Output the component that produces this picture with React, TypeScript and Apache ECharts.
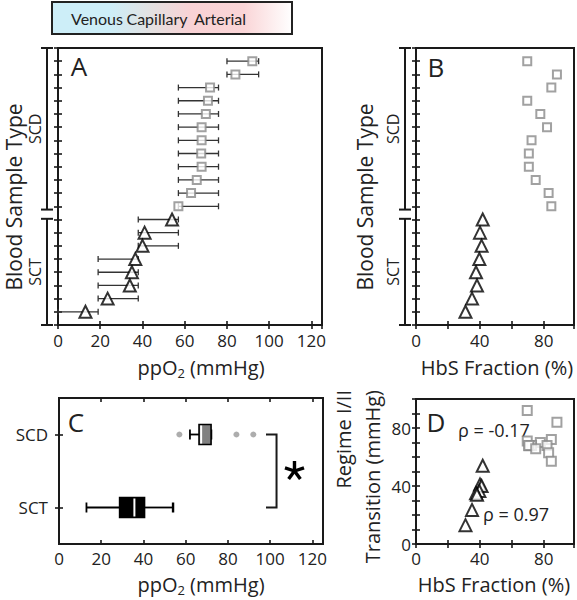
import React, { useEffect, useRef } from "react";
import * as echarts from "echarts";

const FONT = "'Open Sans', 'Noto Sans', sans-serif";
const BAR_FONT = "Lato, 'Open Sans', sans-serif";
const INK = "#1a1a1a";
const GRAY = "#8a8a8a";

// Panel A: ppO2 transition per sample (rows from top to bottom)
const scdPpO2 = [92, 84, 72, 71, 70, 68, 68, 67.8, 68, 65.7, 63, 57];
const scdLo = [80, 80, 57, 57, 57, 57, 57, 57, 57, 57, 57, 57];
const scdHi = [95, 95, 76, 76, 76, 76, 76, 76, 76, 76, 76, 76];
const sctPpO2 = [54, 41, 40, 36.6, 35, 34, 23.5, 13];
const sctLo = [38, 38, 38, 19, 19, 19, 19, 0];
const sctHi = [57, 57, 57, 38, 38, 38, 38, 19];

// Panel B: HbS fraction per sample (same row order)
const scdHbS = [69.7, 88.3, 84.8, 69.7, 77.9, 82.1, 72.4, 70.7, 70.7, 75, 83.1, 84.8];
const sctHbS = [41.8, 40.1, 41.1, 39.7, 37.6, 38.2, 35.1, 31.0];

// Row positions
const scdRows = [20, 19, 18, 17, 16, 15, 14, 13, 12, 11, 10, 9];
const sctRows = [8, 7, 6, 5, 4, 3, 2, 1];

// Group brackets (row extents) and labels
const groupLabels = ["SCD", "SCT"];
const groupExtents = [
  [8.75, 21],
  [0, 8.05],
];

// Panel C: box statistics [category, low whisker, q1, median, q3, high whisker]
const boxCategories = ["SCT", "SCD"];
const sctBox = [0, 13, 28.7, 35.7, 40.5, 54];
const scdBox = [1, 62, 66.3, 67.3, 72, 72];
const boxFill = ["#000000", "#808080"];
const scdOutliers = [57, 84, 92];
// Significance bracket: [x left, x right, asterisk x]
const sigBracket = [[98, 103, 111.5]];

// Panel D annotations
const rhoSCD = "ρ = -0.17";
const rhoSCT = "ρ = 0.97";

// Colour bar labels
const barLabels = ["Venous", "Capillary", "Arterial"];

const tick = (len = 4) => ({
  show: true,
  inside: true,
  length: len,
  lineStyle: { color: INK, width: 1.6 },
});

const noLine = { show: false };
const noSplit = { show: false };

const labelStyle = {
  fontSize: 17,
  fontFamily: FONT,
  color: "#222",
};

function valueAxis(gridIndex: number, min: number, max: number, interval: number, position: string, labels: number[] | null, margin = 6) {
  return {
    type: "value",
    gridIndex,
    min,
    max,
    interval,
    position,
    axisLine: noLine,
    splitLine: noSplit,
    axisTick: tick(),
    axisLabel: labels
      ? {
          show: true,
          ...labelStyle,
          margin,
          showMaxLabel: true,
          formatter: (v: number) => (labels.indexOf(v) >= 0 ? String(v) : ""),
        }
      : { show: false },
  };
}

function errBar(params: any, api: any) {
  const row = api.value(0);
  const p1 = api.coord([api.value(1), row]);
  const p2 = api.coord([api.value(2), row]);
  const h = 3;
  const st = { stroke: "#333", lineWidth: 1.3 };
  return {
    type: "group",
    children: [
      { type: "line", shape: { x1: p1[0], y1: p1[1], x2: p2[0], y2: p2[1] }, style: st },
      { type: "line", shape: { x1: p1[0], y1: p1[1] - h, x2: p1[0], y2: p1[1] + h }, style: st },
      { type: "line", shape: { x1: p2[0], y1: p2[1] - h, x2: p2[0], y2: p2[1] + h }, style: st },
    ],
  };
}

function groupBracket(params: any, api: any) {
  const a = api.coord([0, api.value(0)]);
  const b = api.coord([0, api.value(1)]);
  const x = a[0] - 11;
  const st = { stroke: INK, lineWidth: 2 };
  const label = groupLabels[params.dataIndex];
  return {
    type: "group",
    children: [
      { type: "line", shape: { x1: x, y1: a[1], x2: x, y2: b[1] }, style: st },
      { type: "line", shape: { x1: x - 6, y1: a[1], x2: x + 6, y2: a[1] }, style: st },
      { type: "line", shape: { x1: x - 6, y1: b[1], x2: x + 6, y2: b[1] }, style: st },
      {
        type: "text",
        x: x - 12,
        y: (a[1] + b[1]) / 2,
        rotation: Math.PI / 2,
        style: {
          text: label,
          fontSize: 16,
          fontFamily: FONT,
          fill: "#222",
          align: "center",
          verticalAlign: "middle",
        },
      },
    ],
  };
}

function boxItem(params: any, api: any) {
  const c = api.value(0);
  const px = (v: number) => api.coord([v, c])[0];
  const y = api.coord([0, c])[1];
  const lo = px(api.value(1));
  const q1 = px(api.value(2));
  const md = px(api.value(3));
  const q3 = px(api.value(4));
  const hi = px(api.value(5));
  const bh = 10;
  const ch = 5;
  const st = { stroke: "#000", lineWidth: 1.8 };
  return {
    type: "group",
    children: [
      { type: "line", shape: { x1: lo, y1: y, x2: q1, y2: y }, style: st },
      { type: "line", shape: { x1: q3, y1: y, x2: hi, y2: y }, style: st },
      { type: "line", shape: { x1: lo, y1: y - ch, x2: lo, y2: y + ch }, style: st },
      { type: "line", shape: { x1: hi, y1: y - ch, x2: hi, y2: y + ch }, style: { stroke: "#000", lineWidth: 2.4 } },
      {
        type: "rect",
        shape: { x: q1, y: y - bh, width: q3 - q1, height: 2 * bh },
        style: { fill: boxFill[params.dataIndex], stroke: "#000", lineWidth: 1.6 },
      },
      { type: "line", shape: { x1: md, y1: y - bh + 1, x2: md, y2: y + bh - 1 }, style: { stroke: "#fff", lineWidth: 2 } },
    ],
  };
}

function sigItem(params: any, api: any) {
  const xl = api.value(0);
  const xr = api.value(1);
  const xs = api.value(2);
  const a0 = api.coord([xl, 0]);
  const a1 = api.coord([xl, 1]);
  const r0 = api.coord([xr, 0]);
  const r1 = api.coord([xr, 1]);
  const st = { stroke: INK, lineWidth: 2 };
  const cx = api.coord([xs, 0])[0];
  const cy = (r0[1] + r1[1]) / 2;
  const arm = 10;
  const arms = [90, 18, 162, -54, -126].map((deg) => {
    const r = (deg * Math.PI) / 180;
    return {
      type: "line",
      shape: { x1: cx, y1: cy, x2: cx + arm * Math.cos(r), y2: cy - arm * Math.sin(r) },
      style: { stroke: "#000", lineWidth: 3.4, lineCap: "butt" },
    };
  });
  return {
    type: "group",
    children: [
      {
        type: "polyline",
        shape: { points: [[a1[0], a1[1]], [r1[0], r1[1]], [r0[0], r0[1]], [a0[0], a0[1]]] },
        style: { ...st, fill: "none" },
      },
      ...arms,
    ],
  };
}

function txt(text: string, x: number, y: number, fontSize: number, opts: any = {}) {
  return {
    type: "text",
    x,
    y,
    rotation: opts.rotation || 0,
    style: {
      text,
      fontSize,
      fontFamily: opts.font || FONT,
      fill: "#222",
      align: opts.align || "center",
      verticalAlign: "middle",
      textAlign: opts.align || "center",
      textVerticalAlign: "middle",
    },
  };
}

function ppo2Title(x: number, y: number) {
  return {
    type: "text",
    x,
    y,
    style: {
      text: "{a|ppO}{s|2}{a| (mmHg)}",
      align: "center",
      verticalAlign: "middle",
      fill: "#222",
      rich: {
        a: { fontSize: 20, fontFamily: FONT, lineHeight: 24, fill: "#222" },
        s: { fontSize: 13, fontFamily: FONT, lineHeight: 12, verticalAlign: "bottom", fill: "#222" },
      },
    },
  };
}

const markerSquare = {
  symbol: "rect",
  symbolSize: 8,
  itemStyle: { color: "#fff", borderColor: GRAY, borderWidth: 2 },
};
const markerTri = {
  symbol: "triangle",
  symbolSize: 12,
  itemStyle: { color: "#fff", borderColor: "#000", borderWidth: 2 },
};

export default function App() {
  const ref = useRef<HTMLDivElement>(null);
  useEffect(() => {
    const chart = echarts.init(ref.current as HTMLDivElement, null, { renderer: "svg" });
    const gridStyle = { show: true, borderColor: INK, borderWidth: 2, backgroundColor: "transparent" };
    const option: any = {
      animation: false,
      grid: [
        { left: 58, top: 48, width: 264, height: 277, ...gridStyle },
        { left: 416, top: 48, width: 159, height: 277, ...gridStyle },
        { left: 59, top: 398, width: 264, height: 146, ...gridStyle },
        { left: 416, top: 399, width: 159, height: 145, ...gridStyle },
      ],
      xAxis: [
        valueAxis(0, 0, 125, 20, "bottom", [0, 20, 40, 60, 80, 100, 120], 7),
        valueAxis(0, 0, 125, 20, "top", null),
        valueAxis(1, 0, 99, 20, "bottom", [0, 40, 80], 7),
        valueAxis(1, 0, 99, 20, "top", null),
        valueAxis(2, 0, 125, 20, "bottom", [0, 20, 40, 60, 80, 100, 120], 6),
        valueAxis(2, 0, 125, 20, "top", null),
        valueAxis(3, 0, 99, 20, "bottom", [0, 40, 80], 6),
        valueAxis(3, 0, 99, 20, "top", null),
      ],
      yAxis: [
        valueAxis(0, 0, 21, 1, "left", null),
        valueAxis(0, 0, 21, 1, "right", null),
        valueAxis(1, 0, 21, 1, "left", null),
        valueAxis(1, 0, 21, 1, "right", null),
        {
          type: "category",
          gridIndex: 2,
          data: boxCategories,
          position: "left",
          axisLine: noLine,
          splitLine: noSplit,
          axisTick: { ...tick(), alignWithLabel: true },
          axisLabel: { ...labelStyle, margin: 11 },
        },
        {
          type: "category",
          gridIndex: 2,
          data: boxCategories,
          position: "right",
          axisLine: noLine,
          splitLine: noSplit,
          axisTick: { ...tick(), alignWithLabel: true },
          axisLabel: { show: false },
        },
        valueAxis(3, 0, 100, 10, "left", [0, 40, 80], 5),
        valueAxis(3, 0, 100, 10, "right", null),
      ],
      series: [
        // Panel A
        {
          type: "custom",
          xAxisIndex: 0,
          yAxisIndex: 0,
          clip: false,
          renderItem: errBar,
          data: [
            ...scdRows.map((r, i) => [r, scdLo[i], scdHi[i]]),
            ...sctRows.map((r, i) => [r, sctLo[i], sctHi[i]]),
          ],
          z: 2,
        },
        {
          type: "scatter",
          xAxisIndex: 0,
          yAxisIndex: 0,
          ...markerSquare,
          data: scdPpO2.map((v, i) => [v, scdRows[i]]),
          z: 3,
        },
        {
          type: "scatter",
          xAxisIndex: 0,
          yAxisIndex: 0,
          ...markerTri,
          data: sctPpO2.map((v, i) => [v, sctRows[i]]),
          z: 3,
        },
        {
          type: "custom",
          xAxisIndex: 0,
          yAxisIndex: 0,
          clip: false,
          renderItem: groupBracket,
          data: groupExtents,
        },
        // Panel B
        {
          type: "scatter",
          xAxisIndex: 2,
          yAxisIndex: 2,
          ...markerSquare,
          data: scdHbS.map((v, i) => [v, scdRows[i]]),
        },
        {
          type: "scatter",
          xAxisIndex: 2,
          yAxisIndex: 2,
          ...markerTri,
          data: sctHbS.map((v, i) => [v, sctRows[i]]),
        },
        {
          type: "custom",
          xAxisIndex: 2,
          yAxisIndex: 2,
          clip: false,
          renderItem: groupBracket,
          data: groupExtents,
        },
        // Panel C
        {
          type: "custom",
          xAxisIndex: 4,
          yAxisIndex: 4,
          renderItem: boxItem,
          data: [sctBox, scdBox],
          z: 3,
        },
        {
          type: "scatter",
          xAxisIndex: 4,
          yAxisIndex: 4,
          symbol: "circle",
          symbolSize: 6,
          itemStyle: { color: "#999" },
          data: scdOutliers.map((v) => [v, 1]),
        },
        {
          type: "custom",
          xAxisIndex: 4,
          yAxisIndex: 4,
          clip: false,
          renderItem: sigItem,
          data: sigBracket,
        },
        // Panel D
        {
          type: "scatter",
          xAxisIndex: 6,
          yAxisIndex: 6,
          ...markerSquare,
          symbolSize: 9,
          data: scdHbS.map((v, i) => [v, scdPpO2[i]]),
        },
        {
          type: "scatter",
          xAxisIndex: 6,
          yAxisIndex: 6,
          ...markerTri,
          data: sctHbS.map((v, i) => [v, sctPpO2[i]]),
        },
      ],
      graphic: [
        {
          type: "rect",
          shape: { x: 52, y: 2, width: 240, height: 32 },
          style: {
            fill: new echarts.graphic.LinearGradient(0, 0, 1, 0, [
              { offset: 0, color: "#cdeef8" },
              { offset: 0.24, color: "#cdeef8" },
              { offset: 0.42, color: "#e4e0e0" },
              { offset: 0.58, color: "#f9d2d5" },
              { offset: 0.8, color: "#fad5d7" },
              { offset: 1, color: "#ffffff" },
            ]),
            stroke: "#222",
            lineWidth: 2,
          },
        },
        txt(barLabels[0], 97, 18, 16, { font: BAR_FONT }),
        txt(barLabels[1], 157, 18, 16, { font: BAR_FONT }),
        txt(barLabels[2], 220, 18, 16, { font: BAR_FONT }),
        txt("A", 79, 66, 26),
        txt("B", 436, 67, 26),
        txt("C", 76, 422, 26),
        txt("D", 436, 422, 26),
        ppo2Title(201, 367),
        ppo2Title(201, 584),
        txt("HbS Fraction (%)", 497, 367, 20),
        txt("HbS Fraction (%)", 494, 584, 20),
        txt("Blood Sample Type", 14, 197, 21, { rotation: Math.PI / 2 }),
        txt("Blood Sample Type", 365, 197, 21, { rotation: Math.PI / 2 }),
        txt("Regime I/II", 343, 390, 20, { rotation: Math.PI / 2, align: "right" }),
        txt("Transition (mmHg)", 372, 390, 20, { rotation: Math.PI / 2, align: "right" }),
        txt(rhoSCD, 458, 430, 18, { align: "left" }),
        txt(rhoSCT, 483, 514, 18, { align: "left" }),
      ],
    };
    chart.setOption(option);
    return () => chart.dispose();
  }, []);
  return (
    <div
      ref={ref}
      style={{ position: "absolute", left: 0, top: 0, width: 577, height: 600, background: "#fff" }}
    />
  );
}
